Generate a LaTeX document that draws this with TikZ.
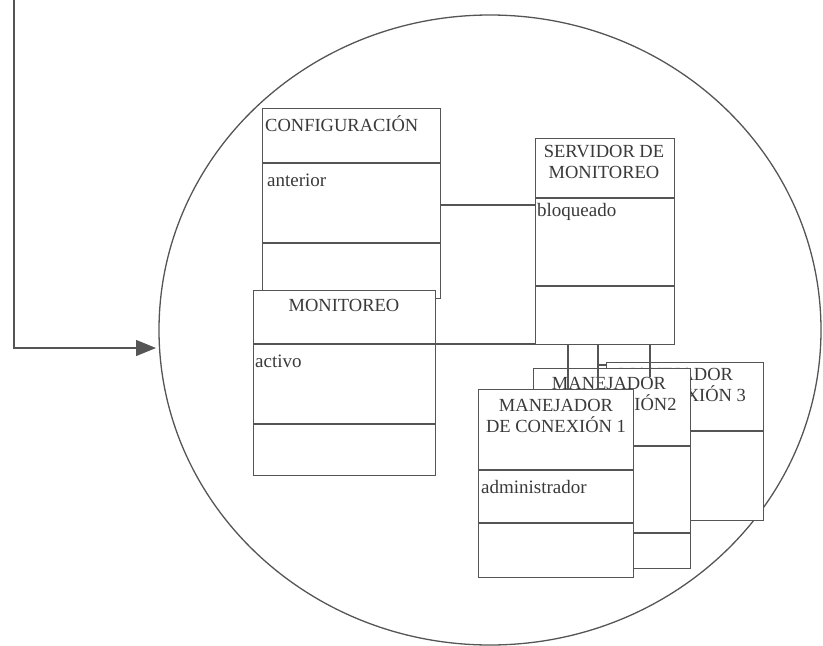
\documentclass[tikz,border=0pt]{standalone}
\usepackage{fontspec}
\setmainfont{Liberation Serif}
\usetikzlibrary{arrows.meta,shapes.geometric}
\definecolor{linec}{HTML}{555555}
\definecolor{textc}{HTML}{3A3A3A}
\begin{document}
\begin{tikzpicture}[x=1pt,y=-1pt,
  umlbox/.style={draw=linec, fill=white, line width=1.3pt, rectangle, anchor=north west, inner sep=0pt},
  conn/.style={draw=linec, line width=1.3pt},
  ttl/.style={text=textc, font=\fontsize{18.5}{21}\selectfont, align=center, inner sep=0pt},
  attr/.style={text=textc, font=\fontsize{19}{21}\selectfont, anchor=west, inner sep=0pt}]
\useasboundingbox (0,0) rectangle (823,646);
% outer circle
\node[draw=linec, line width=1.3pt, ellipse, minimum width=662pt, minimum height=630pt, inner sep=0pt] (circ) at (490,330) {};
% incoming arrow
\coordinate (src) at (14,0);
\coordinate (tip) at (156,348);
\draw[conn, -{Triangle[length=20pt,width=16pt]}] (src) |- (tip);

% CONFIGURACION
\node[umlbox, minimum width=178pt, minimum height=190pt] (cfg) at (262,108) {};
\draw[conn] ([yshift=-55pt]cfg.north west) -- ([yshift=-55pt]cfg.north east);
\draw[conn] ([yshift=-135pt]cfg.north west) -- ([yshift=-135pt]cfg.north east);
\node[ttl, anchor=west] (cfgt) at (265,124) {CONFIGURACIÓN};
\node[attr] (cfga) at (267,180) {anterior};

% SERVIDOR DE MONITOREO
\node[umlbox, minimum width=139pt, minimum height=206pt] (srv) at (535,138) {};
\draw[conn] ([yshift=-60pt]srv.north west) -- ([yshift=-60pt]srv.north east);
\draw[conn] ([yshift=-148pt]srv.north west) -- ([yshift=-148pt]srv.north east);
\node[ttl] (srvt) at (604,162) {SERVIDOR DE\\MONITOREO};
\node[attr] (srva) at (537,212) {bloqueado};

% config -- servidor
\coordinate (cfgr) at (440,205);
\coordinate (srvl) at (535,205);
\draw[conn] (cfgr) -- (srvl);

% MONITOREO
\node[umlbox, minimum width=182pt, minimum height=185pt] (mon) at (253,290) {};
\draw[conn] ([yshift=-54pt]mon.north west) -- ([yshift=-54pt]mon.north east);
\draw[conn] ([yshift=-134pt]mon.north west) -- ([yshift=-134pt]mon.north east);
\node[ttl] (mont) at (344,305) {MONITOREO};
\node[attr] (mona) at (255,361) {activo};

% monitoreo -- servidor
\coordinate (monr) at ([yshift=-54pt]mon.north east);
\draw[conn] (monr) -- (monr -| srv.west);

% MANEJADOR 3
\node[umlbox, minimum width=157pt, minimum height=158pt] (m3) at (606,362) {};
\draw[conn] ([yshift=-69pt]m3.north west) -- ([yshift=-69pt]m3.north east);
\node[ttl] (m3t) at (676,385) {MANEJADOR\\DE CONEXIÓN 3};

% MANEJADOR 2
\node[umlbox, minimum width=157pt, minimum height=200pt] (m2) at (533,368) {};
\draw[conn] ([yshift=-78pt]m2.north west) -- ([yshift=-78pt]m2.north east);
\draw[conn] ([yshift=-165pt]m2.north west) -- ([yshift=-165pt]m2.north east);
\node[ttl] (m2t) at (609,394) {MANEJADOR\\DE CONEXIÓN2};

% servidor -- manejadores
\coordinate (s1) at (568,344);
\coordinate (s2) at (598,344);
\coordinate (s3) at (650,344);
\draw[conn] (s1) -- (568,389);
\draw[conn] (s2) -- (598,389);
\draw[conn] (598,365) -- (606,365);
\draw[conn] (s3) -- (650,377);

% MANEJADOR 1
\node[umlbox, minimum width=155pt, minimum height=188pt] (m1) at (478,389) {};
\draw[conn] ([yshift=-81pt]m1.north west) -- ([yshift=-81pt]m1.north east);
\draw[conn] ([yshift=-134pt]m1.north west) -- ([yshift=-134pt]m1.north east);
\node[ttl] (m1t) at (556,416) {MANEJADOR\\DE CONEXIÓN 1};
\node[attr] (m1a) at (481,487) {administrador};
\end{tikzpicture}
\end{document}
